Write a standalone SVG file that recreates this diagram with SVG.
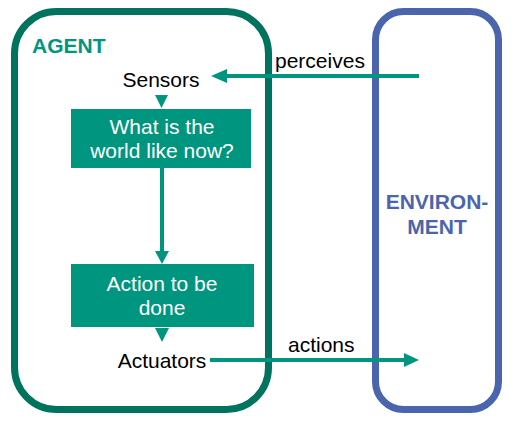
<svg xmlns="http://www.w3.org/2000/svg" width="513" height="421" viewBox="0 0 513 421">
<defs>
<style>
text{font-family:"Liberation Sans",Arial,sans-serif;font-size:21px}
.lbl{fill:#000}
.wt{fill:#fff;text-anchor:middle}
.box{fill:#00957f}
.conn{stroke:#00957f;stroke-width:4;fill:none}
.head{fill:#00957f}
</style>
</defs>
<rect width="513" height="421" fill="#fff"/>
<g id="agent">
<rect x="14.5" y="11.5" width="254" height="398" rx="42" fill="none" stroke="#00735f" stroke-width="7"/>
<text x="32" y="53" font-weight="bold" fill="#00957f">AGENT</text>
</g>
<g id="environment">
<rect x="375.5" y="11.5" width="123" height="398" rx="28" fill="none" stroke="#4a65ad" stroke-width="7"/>
<text x="437" y="209" font-weight="bold" fill="#4a65ad" text-anchor="middle">ENVIRON-</text>
<text x="437" y="234" font-weight="bold" fill="#4a65ad" text-anchor="middle">MENT</text>
</g>
<g id="sensors"><text class="lbl" x="161" y="87" text-anchor="middle">Sensors</text></g>
<g id="world">
<rect class="box" x="71" y="109" width="180" height="59"/>
<text class="wt" x="162" y="134">What is the</text>
<text class="wt" x="162" y="158">world like now?</text>
</g>
<g id="action">
<rect class="box" x="71" y="264" width="183" height="63"/>
<text class="wt" x="162" y="291">Action to be</text>
<text class="wt" x="162" y="315">done</text>
</g>
<g id="actuators"><text class="lbl" x="162" y="368" text-anchor="middle">Actuators</text></g>
<g id="connectors">
<line class="conn" x1="419" y1="76" x2="224" y2="76"/>
<polygon class="head" points="211,76 227,69 227,83"/>
<text class="lbl" x="275" y="68">perceives</text>
<polygon class="head" points="155,95 168,95 161.5,108"/>
<line class="conn" x1="162" y1="168" x2="162" y2="252"/>
<polygon class="head" points="155,251 169,251 162,264"/>
<polygon class="head" points="155,328 169,328 162,342"/>
<line class="conn" x1="210" y1="360" x2="406" y2="360"/>
<polygon class="head" points="419,360 404,353 404,367"/>
<text class="lbl" x="288" y="352">actions</text>
</g>
</svg>
